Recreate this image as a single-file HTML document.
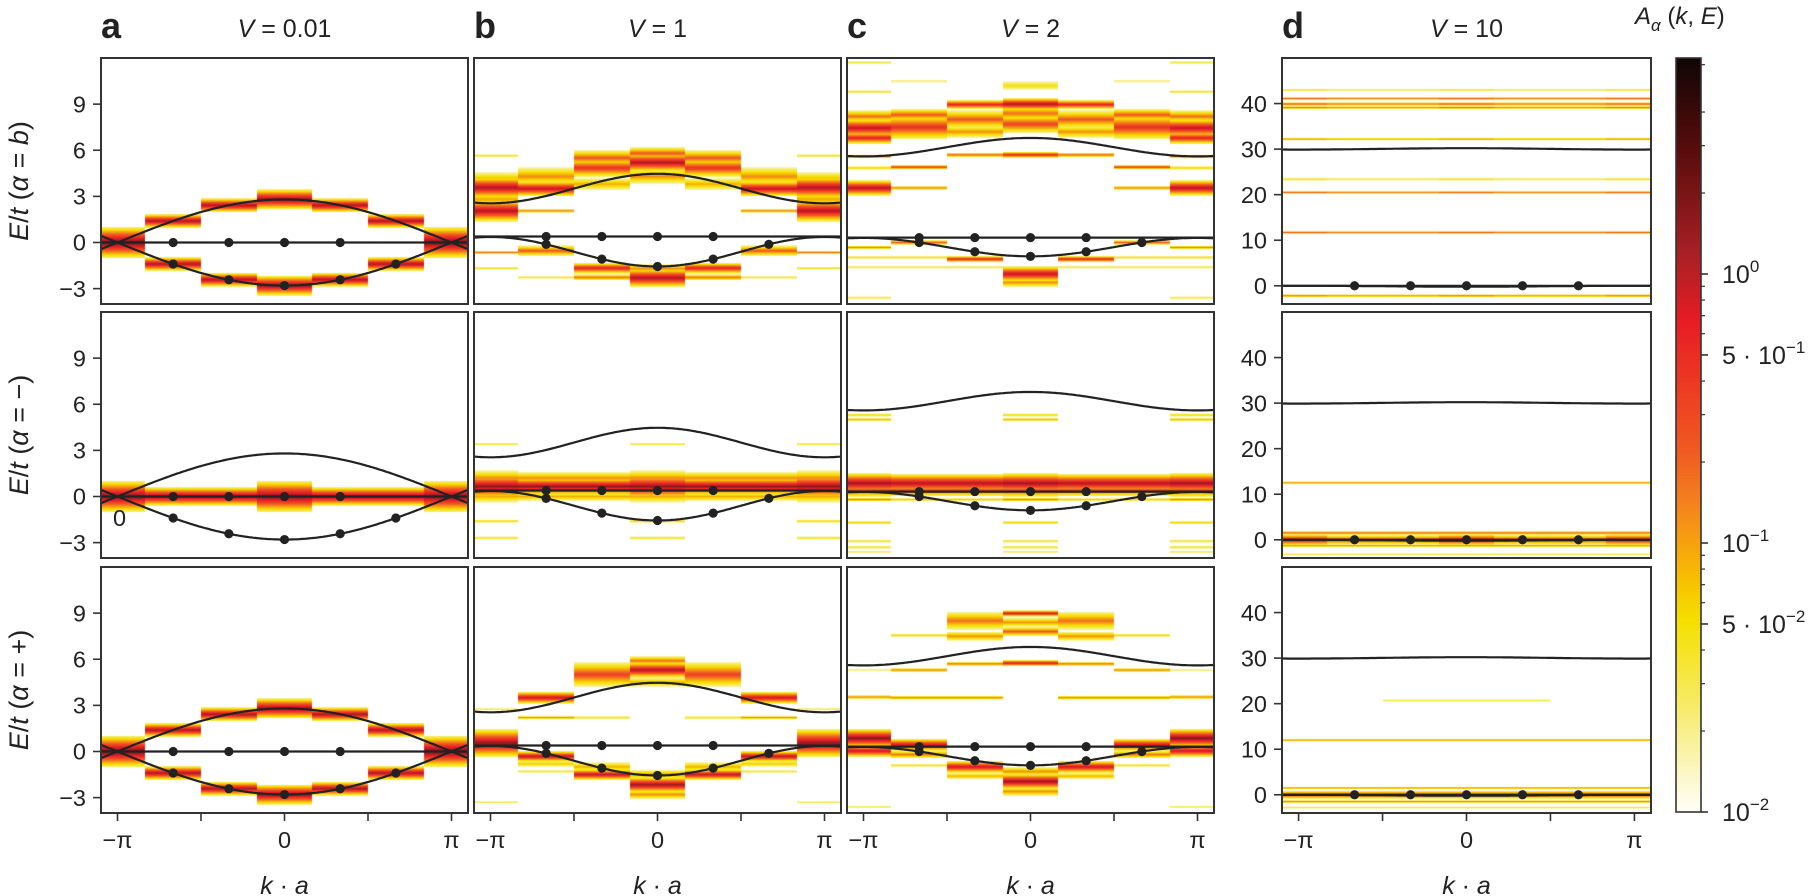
<!DOCTYPE html>
<html><head><meta charset="utf-8">
<style>
html,body{margin:0;padding:0;background:#fff;}
#wrap{position:relative;width:1818px;height:896px;overflow:hidden;background:#fff;}
canvas,svg{position:absolute;left:0;top:0;}
text{font-family:"Liberation Sans",Arial,sans-serif;fill:#222;}
.tk{font-size:23.5px;}
.it{font-style:italic;}
</style></head>
<body>
<div id="wrap">
<canvas id="cv" width="1818" height="896"></canvas>
<svg id="sv" width="1818" height="896" viewBox="0 0 1818 896">
<g id="g"></g>
<text x="101" y="38" style="font-size:36px;font-weight:bold">a</text>
<text x="474" y="38" style="font-size:36px;font-weight:bold">b</text>
<text x="847" y="38" style="font-size:36px;font-weight:bold">c</text>
<text x="1282" y="38" style="font-size:36px;font-weight:bold">d</text>
<text x="284.5" y="37" text-anchor="middle" style="font-size:25px"><tspan class="it">V</tspan> = 0.01</text>
<text x="657.5" y="37" text-anchor="middle" style="font-size:25px"><tspan class="it">V</tspan> = 1</text>
<text x="1030.5" y="37" text-anchor="middle" style="font-size:25px"><tspan class="it">V</tspan> = 2</text>
<text x="1466.5" y="37" text-anchor="middle" style="font-size:25px"><tspan class="it">V</tspan> = 10</text>
<text x="1635" y="24" style="font-size:24px"><tspan class="it">A</tspan><tspan class="it" style="font-size:17px" dy="7">α</tspan><tspan dy="-7"> (</tspan><tspan class="it">k</tspan>, <tspan class="it">E</tspan>)</text>
<text transform="translate(28,181) rotate(-90)" text-anchor="middle" style="font-size:27px"><tspan class="it">E</tspan>/<tspan class="it">t</tspan> (<tspan class="it">α</tspan> = <tspan class="it">b</tspan>)</text>
<text transform="translate(28,435) rotate(-90)" text-anchor="middle" style="font-size:27px"><tspan class="it">E</tspan>/<tspan class="it">t</tspan> (<tspan class="it">α</tspan> = −)</text>
<text transform="translate(28,690) rotate(-90)" text-anchor="middle" style="font-size:27px"><tspan class="it">E</tspan>/<tspan class="it">t</tspan> (<tspan class="it">α</tspan> = +)</text>
<g class="tk" text-anchor="end">
<text x="86" y="112.5">9</text><text x="86" y="158.5">6</text><text x="86" y="204.5">3</text><text x="86" y="250.5">0</text><text x="86" y="297">−3</text>
<text x="86" y="366.5">9</text><text x="86" y="412.5">6</text><text x="86" y="458.5">3</text><text x="86" y="504.5">0</text><text x="86" y="551">−3</text>
<text x="86" y="621.5">9</text><text x="86" y="667.5">6</text><text x="86" y="713.5">3</text><text x="86" y="759.5">0</text><text x="86" y="806">−3</text>
<text x="1267" y="112">40</text><text x="1267" y="157.5">30</text><text x="1267" y="203">20</text><text x="1267" y="248.5">10</text><text x="1267" y="294">0</text>
<text x="1267" y="366">40</text><text x="1267" y="411.5">30</text><text x="1267" y="457">20</text><text x="1267" y="502.5">10</text><text x="1267" y="548">0</text>
<text x="1267" y="621">40</text><text x="1267" y="666.5">30</text><text x="1267" y="712">20</text><text x="1267" y="757.5">10</text><text x="1267" y="803">0</text>
</g>
<text x="113" y="526" class="tk">0</text>
<g class="tk" text-anchor="middle">
<text x="117.5" y="848">−π</text><text x="284.5" y="848">0</text><text x="451.5" y="848">π</text>
<text x="490.5" y="848">−π</text><text x="657.5" y="848">0</text><text x="824.5" y="848">π</text>
<text x="863.5" y="848">−π</text><text x="1030.5" y="848">0</text><text x="1197.5" y="848">π</text>
<text x="1298.6" y="848">−π</text><text x="1466.5" y="848">0</text><text x="1634.4" y="848">π</text>
</g>
<g text-anchor="middle" style="font-size:25px">
<text x="284.5" y="894"><tspan class="it">k</tspan> · <tspan class="it">a</tspan></text>
<text x="657.5" y="894"><tspan class="it">k</tspan> · <tspan class="it">a</tspan></text>
<text x="1030.5" y="894"><tspan class="it">k</tspan> · <tspan class="it">a</tspan></text>
<text x="1466.5" y="894"><tspan class="it">k</tspan> · <tspan class="it">a</tspan></text>
</g>
<g style="font-size:25px">
<text x="1722" y="283">10<tspan dy="-11" style="font-size:17px">0</tspan></text>
<text x="1722" y="364">5 · 10<tspan dy="-11" style="font-size:17px">−1</tspan></text>
<text x="1722" y="552">10<tspan dy="-11" style="font-size:17px">−1</tspan></text>
<text x="1722" y="633">5 · 10<tspan dy="-11" style="font-size:17px">−2</tspan></text>
<text x="1722" y="821">10<tspan dy="-11" style="font-size:17px">−2</tspan></text>
</g>
</svg>
</div>
<script>
(function(){
var PI=Math.PI;
var rows=[[58,304],[312,558],[567,813]];
var cols=[[101,468],[474,841],[847,1214],[1282,1651]];
var yr=[[-4,12],[-4,12],[-4,12],[-4,50]];
var stops=[[0,'#fffff8'],[0.042,'#fcf8d0'],[0.149,'#f6ea60'],[0.255,'#f5e000'],[0.308,'#f8c000'],[0.414,'#f4801f'],[0.48,'#f05a22'],[0.652,'#e81c24'],[0.745,'#a52025'],[0.878,'#5a0c0c'],[1,'#100606']];
function h2r(h){return [parseInt(h.substr(1,2),16),parseInt(h.substr(3,2),16),parseInt(h.substr(5,2),16)];}
stops=stops.map(function(s){return [s[0],h2r(s[1])];});
function cmap(t){if(t<=0)t=0;if(t>=1)t=1;for(var i=1;i<stops.length;i++){if(t<=stops[i][0]){var a=stops[i-1],b=stops[i];var f=(t-a[0])/(b[0]-a[0]);return 'rgb('+[0,1,2].map(function(j){return Math.round(a[1][j]+(b[1][j]-a[1][j])*f);}).join(',')+')';}}return 'rgb(16,6,6)';}
function X(c,k){var x0=cols[c][0],w=cols[c][1]-cols[c][0];var pad=16.5*w/367;return x0+pad+(k+PI)/(2*PI)*(w-2*pad);}
function Y(c,r,E){var t=rows[r][0],b=rows[r][1];return b-(E-yr[c][0])/(yr[c][1]-yr[c][0])*(b-t);}
function Einv(c,r,y){var t=rows[r][0],b=rows[r][1];return yr[c][0]+(b-y)/(b-t)*(yr[c][1]-yr[c][0]);}
var aB={0:[[2.8,0.8,0.65],[-2.8,0.8,0.65]],1:[[2.42,0.76,0.45],[-2.42,0.76,0.45]],2:[[1.4,0.76,0.45],[-1.4,0.76,0.45]],3:[[0,0.85,1.0]]};
var a2={0:[[0,0.82,1.0]],1:[[0,0.8,0.6]],2:[[0,0.8,0.6]],3:[[0,0.82,1.0]]};
var D={};
D['0_0']=aB;D['0_1']=a2;D['0_2']=aB;
D['1_0']={3:[[3.57,0.75,0.7],[2.06,0.75,0.7],[2.8,0.35,0.6],[4.2,0.3,0.4],[5.64,0.25,0.1],[-0.65,0.45,0.12],[-1.67,0.25,0.1]],
2:[[3.5,0.72,0.5],[4.3,0.4,0.6],[2.06,0.45,0.12],[-0.54,0.5,0.35],[-2.27,0.2,0.1]],
1:[[4.85,0.6,0.6],[5.5,0.5,0.5],[3.8,0.35,0.4],[-1.67,0.65,0.35],[-2.27,0.45,0.2]],
0:[[5.2,0.75,0.6],[5.8,0.5,0.4],[4.3,0.4,0.5],[-2.3,0.75,0.6],[-1.7,0.4,0.3]]};
D['2_0']={3:[[11.7,0.2,0.1],[9.8,0.25,0.1],[7.45,0.72,0.6],[6.8,0.65,0.4],[8.2,0.45,0.4],[5.6,0.5,0.12],[4.85,0.3,0.12],[3.55,0.75,0.5],[-0.32,0.45,0.12],[-0.97,0.25,0.1],[-1.6,0.2,0.1],[-3.6,0.2,0.1]],
2:[[10.5,0.15,0.1],[7.5,0.6,0.8],[8.3,0.5,0.4],[4.9,0.6,0.15],[3.55,0.45,0.12],[0.0,0.5,0.15],[-0.97,0.25,0.1],[-1.6,0.2,0.1]],
1:[[8.97,0.65,0.3],[8.0,0.5,0.6],[7.2,0.4,0.4],[5.7,0.5,0.15],[-1.08,0.65,0.2],[-1.6,0.2,0.1]],
0:[[9.0,0.75,0.4],[7.7,0.55,0.6],[8.4,0.45,0.5],[10.2,0.25,0.3],[5.7,0.65,0.2],[-2.05,0.72,0.5],[-2.6,0.4,0.3]]};
var b2e=[[0.65,0.8,0.75],[1.2,0.4,0.5],[0.0,0.35,0.4],[3.4,0.25,0.08],[-1.6,0.3,0.1],[-2.7,0.25,0.1]];
var b2m=[[0.65,0.8,0.55],[1.2,0.4,0.4],[0.0,0.35,0.3]];
D['1_1']={0:b2e,1:b2m,2:b2m,3:b2e};
var c2e=[[0.86,0.78,0.65],[0.4,0.55,0.45],[5.3,0.3,0.1],[5.0,0.35,0.1],[-0.2,0.45,0.12],[-1.7,0.3,0.1],[-2.9,0.25,0.1],[-3.3,0.25,0.1],[-3.6,0.2,0.08]];
var c2m=[[0.86,0.75,0.6],[0.4,0.55,0.4],[-0.2,0.3,0.1]];
D['2_1']={0:c2e,1:c2m,2:c2m,3:c2e};
D['1_2']={3:[[0.54,0.8,0.9],[2.75,0.2,0.08],[-3.3,0.2,0.08]],
2:[[3.5,0.7,0.4],[2.2,0.45,0.1],[-0.32,0.72,0.35],[-0.8,0.3,0.2],[-1.3,0.2,0.1]],
1:[[5.0,0.55,0.8],[2.2,0.25,0.1],[-1.5,0.72,0.35],[-1.0,0.35,0.3]],
0:[[5.3,0.75,0.5],[5.9,0.45,0.3],[4.5,0.35,0.3],[-2.16,0.78,0.5],[-1.5,0.4,0.3],[-2.8,0.4,0.3]]};
D['2_2']={3:[[0.86,0.82,0.6],[0.04,0.7,0.4],[3.54,0.45,0.12],[5.3,0.15,0.1],[-3.6,0.2,0.08]],
2:[[7.56,0.3,0.1],[5.3,0.45,0.12],[3.5,0.45,0.12],[0.43,0.7,0.4],[-0.2,0.45,0.25],[-0.9,0.25,0.1]],
1:[[8.5,0.45,0.6],[7.5,0.4,0.3],[5.7,0.5,0.12],[3.5,0.45,0.12],[-1.0,0.7,0.4],[-1.6,0.35,0.2]],
0:[[8.98,0.7,0.2],[8.4,0.4,0.3],[7.8,0.5,0.3],[5.75,0.7,0.2],[-1.95,0.78,0.5],[-1.3,0.4,0.3],[-2.6,0.4,0.3]]};
var d1=[[43,0.2,0.3],[41.1,0.45,0.3],[39.9,0.5,0.35],[39.1,0.45,0.3],[32.2,0.4,0.3],[23.4,0.2,0.3],[20.5,0.45,0.3],[11.7,0.45,0.3],[-2.2,0.45,0.3]];
var d1s=d1.map(function(b){return [b[0],b[1]+0.06,b[2]];});
D['3_0']={0:d1s,1:d1,2:d1,3:d1s};
var d2=[[0.0,0.6,1.0],[1.5,0.5,0.4],[-1.3,0.45,0.3],[12.5,0.45,0.3],[-3.2,0.2,0.25]];
var d2s=[[0.0,0.72,1.2],[1.5,0.5,0.4],[-1.3,0.45,0.3],[12.5,0.45,0.3],[-3.2,0.2,0.25]];
D['3_1']={0:d2s,1:d2,2:d2,3:d2s};
var d3=[[0,0.6,0.9],[1.5,0.45,0.3],[-1.5,0.45,0.3],[12,0.45,0.3],[-2.8,0.2,0.2]];
var d3c=d3.concat([[20.7,0.2,0.25]]);
D['3_2']={0:d3c,1:d3c,2:d3,3:d3};

var cv=document.getElementById('cv').getContext('2d');
for(var c=0;c<4;c++)for(var r=0;r<3;r++){
 var data=D[c+'_'+r];
 var x0=cols[c][0],x1=cols[c][1];
 for(var n=-3;n<=3;n++){
  var bands=data[Math.abs(n)];
  var xa=Math.max(x0,X(c,n*PI/3-PI/6)),xb=Math.min(x1,X(c,n*PI/3+PI/6));
  xa=Math.round(xa);xb=Math.round(xb);
  for(var y=rows[r][0];y<rows[r][1];y++){
   var E=Einv(c,r,y+0.5);var t=0;
   for(var i=0;i<bands.length;i++){var b=bands[i];var d=Math.abs(E-b[0]);
    var ww=Math.max(b[2],(c==3?0.25:0.07));
    if(d<ww){var v=b[1]*(1-0.85*d/ww);if(v>t)t=v;}}
   if(t>0.03){cv.fillStyle=cmap(t);cv.fillRect(xa,y,xb-xa,1);}
  }
 }
}
for(var y=58;y<813;y++){var t=(812-y)/754;cv.fillStyle=cmap(t);cv.fillRect(1676,y,25,1);}

var g=document.getElementById('g');var NS='http://www.w3.org/2000/svg';
function el(tag,at){var e=document.createElementNS(NS,tag);for(var k in at)e.setAttribute(k,at[k]);g.appendChild(e);return e;}
var curves=[
 [function(k){return 2.8*Math.cos(k/2);},function(k){return -2.8*Math.cos(k/2);},function(k){return 0;}],
 [function(k){return 3.51+0.96*Math.cos(k);},function(k){return -0.6-0.96*Math.cos(k);},function(k){return 0.39;}],
 [function(k){return 6.2+0.6*Math.cos(k);},function(k){return -0.3-0.6*Math.cos(k);},function(k){return 0.32;}],
 [function(k){return 30.05+0.15*Math.cos(k);},function(k){return -0.1-0.1*Math.cos(k);},function(k){return 0;}]
];
var defs=document.createElementNS(NS,'defs');g.appendChild(defs);
for(var c=0;c<4;c++)for(var r=0;r<3;r++){
 var x0=cols[c][0],x1=cols[c][1],t0=rows[r][0],t1=rows[r][1];
 var cp=document.createElementNS(NS,'clipPath');cp.setAttribute('id','cp'+c+r);
 var rc=document.createElementNS(NS,'rect');rc.setAttribute('x',x0);rc.setAttribute('y',t0);rc.setAttribute('width',x1-x0);rc.setAttribute('height',t1-t0);
 cp.appendChild(rc);defs.appendChild(cp);
 var gg=document.createElementNS(NS,'g');gg.setAttribute('clip-path','url(#cp'+c+r+')');g.appendChild(gg);
 curves[c].forEach(function(f){
  var d='';for(var px=x0;px<=x1;px+=2){var pad=16.5*(x1-x0)/367;var k=(px-x0-pad)/((x1-x0)-2*pad)*2*PI-PI;d+=(d?'L':'M')+px+' '+Y(c,r,f(k)).toFixed(1);}
  var p=document.createElementNS(NS,'path');p.setAttribute('d',d);p.setAttribute('fill','none');p.setAttribute('stroke','#222');p.setAttribute('stroke-width','2.2');gg.appendChild(p);
 });
 [-2,-1,0,1,2].forEach(function(m){var k=m*PI/3;
  if(c==3||m<2){var ci=document.createElementNS(NS,'circle');ci.setAttribute('cx',X(c,k));ci.setAttribute('cy',Y(c,r,curves[c][2](k)));ci.setAttribute('r',4.6);ci.setAttribute('fill','#222');gg.appendChild(ci);}
  if(c<3){var ci2=document.createElementNS(NS,'circle');ci2.setAttribute('cx',X(c,k));ci2.setAttribute('cy',Y(c,r,curves[c][1](k)));ci2.setAttribute('r',4.6);ci2.setAttribute('fill','#222');gg.appendChild(ci2);}
 });
 el('rect',{x:x0,y:t0,width:x1-x0,height:t1-t0,fill:'none',stroke:'#333','stroke-width':2});
 if(r==2){for(var m=-2;m<=2;m++){var xx=X(c,m*PI/2);el('line',{x1:xx,x2:xx,y1:t1,y2:t1+8,stroke:'#333','stroke-width':1.6});}}
 if(c==0){[-3,0,3,6,9].forEach(function(E){var yy=Y(c,r,E);el('line',{x1:x0-8,x2:x0,y1:yy,y2:yy,stroke:'#333','stroke-width':1.6});});}
 if(c==3){[0,10,20,30,40].forEach(function(E){var yy=Y(c,r,E);el('line',{x1:x0-8,x2:x0,y1:yy,y2:yy,stroke:'#333','stroke-width':1.6});});}
}
el('rect',{x:1676,y:58,width:25,height:754,fill:'none',stroke:'#333','stroke-width':1.6});
function cy(v){return 812-(Math.log10(v)+2)*269;}
[0.01,0.1,1,0.05,0.5].forEach(function(v){el('line',{x1:1701,x2:1708,y1:cy(v),y2:cy(v),stroke:'#333','stroke-width':1.6});});
[0.01,0.1,1].forEach(function(dec){for(var m=2;m<=9;m++){if(m==5)continue;var yy=cy(dec*m);if(yy>58){el('line',{x1:1701,x2:1705,y1:yy,y2:yy,stroke:'#333','stroke-width':1.2});}}});
})();
</script>
</body></html>
